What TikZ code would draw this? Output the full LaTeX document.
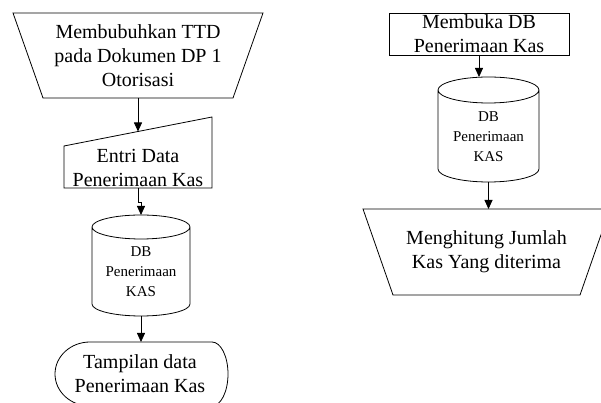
\documentclass[tikz,border=0pt]{standalone}
\usepackage{fontspec}
\setmainfont{Liberation Serif}
\usetikzlibrary{arrows.meta}
\begin{document}
\begin{tikzpicture}[x=1pt,y=1pt,
  outline/.style={draw=black, line width=0.8pt},
  box/.style={inner sep=0pt, outer sep=0pt, align=center, font=\fontsize{20}{24}\selectfont},
  small/.style={inner sep=0pt, outer sep=0pt, align=center, font=\fontsize{15}{20}\selectfont},
  flow/.style={draw=black, line width=0.8pt, -{Triangle[length=9pt,width=8pt]}},
]
\useasboundingbox (0,0) rectangle (601,403);
\clip (0,0) rectangle (601,403);

% ---- left flow ----
% manual operation
\node[box, minimum width=250, minimum height=85] (sign) at (138,347.5)
  {Membubuhkan TTD\\pada Dokumen DP 1\\Otorisasi};
\draw[outline] (sign.north west) -- (sign.north east)
  -- ([xshift=-30pt]sign.south east) -- ([xshift=30pt]sign.south west) -- cycle;

% manual input
\node[box, minimum width=148, minimum height=71] (entry) at (138,250.5) {};
\node[box] (entrytext) at (138,235.5) {Entri Data\\Penerimaan Kas};
\draw[outline] ([yshift=-29pt]entry.north west) -- (entry.north east)
  -- (entry.south east) -- (entry.south west) -- cycle;
\coordinate (entrytop) at ([yshift=-14.5pt]entry.north);

% database
\node[box, minimum width=98, minimum height=101] (dbA) at (141,137.5) {};
\node[small] (dbAtext) at (141,131) {DB\\Penerimaan\\KAS};
\draw[outline] ([yshift=-12pt]dbA.north west) -- ([yshift=12pt]dbA.south west)
  arc[start angle=180, end angle=360, x radius=49, y radius=12]
  -- ([yshift=-12pt]dbA.north east)
  arc[start angle=0, end angle=180, x radius=49, y radius=12]
  arc[start angle=180, end angle=360, x radius=49, y radius=12];

% display
\node[box, minimum width=173, minimum height=64] (show) at (141.5,29) {};
\node[box] (showtext) at (140,29.5) {Tampilan data\\Penerimaan Kas};
\draw[outline] ([xshift=35pt]show.north west) -- ([xshift=-16pt]show.north east)
  arc[start angle=90, end angle=-90, x radius=16, y radius=32]
  -- ([xshift=35pt]show.south west)
  arc[start angle=270, end angle=90, x radius=35, y radius=32] -- cycle;

\draw[flow] (sign.south) -- (entrytop);
\draw[flow] (entry.south) -- ++(0,-14) -| (dbA.north);
\draw[flow] (dbA.south) -- (dbA.south |- show.north);

% ---- right flow ----
\node[box, outline, minimum width=180, minimum height=42] (open) at (479,369)
  {Membuka DB\\Penerimaan Kas};

\node[box, minimum width=101, minimum height=105] (dbB) at (488.5,273.5) {};
\node[small] (dbBtext) at (488.5,266.5) {DB\\Penerimaan\\KAS};
\draw[outline] ([yshift=-13pt]dbB.north west) -- ([yshift=13pt]dbB.south west)
  arc[start angle=180, end angle=360, x radius=50.5, y radius=13]
  -- ([yshift=-13pt]dbB.north east)
  arc[start angle=0, end angle=180, x radius=50.5, y radius=13]
  arc[start angle=180, end angle=360, x radius=50.5, y radius=13];

\node[box, minimum width=247, minimum height=86] (count) at (486.5,151)
  {Menghitung Jumlah\\Kas Yang diterima};
\draw[outline] (count.north west) -- (count.north east)
  -- ([xshift=-30pt]count.south east) -- ([xshift=30pt]count.south west) -- cycle;

\draw[flow] (open.south) -- (open.south |- dbB.north);
\draw[flow] (dbB.south) -- (dbB.south |- count.north);
\end{tikzpicture}
\end{document}
